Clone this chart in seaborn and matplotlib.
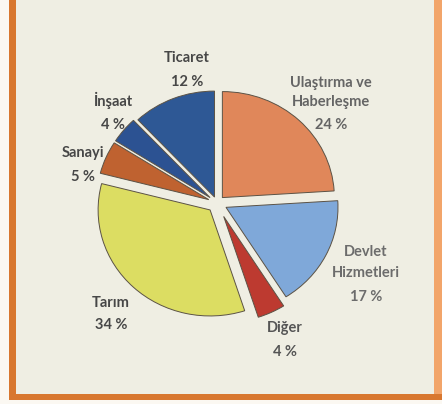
import matplotlib
matplotlib.use("Agg")
import matplotlib.pyplot as plt
from matplotlib.patches import Rectangle
import seaborn as sns

# ---- data ----
categories = ["Ticaret", "İnşaat", "Sanayi", "Tarım", "Diğer", "Devlet Hizmetleri", "Ulaştırma ve Haberleşme"]
values = [12, 4, 5, 34, 4, 17, 24]
label_lines = [["Ticaret"], ["İnşaat"], ["Sanayi"], ["Tarım"], ["Diğer"],
               ["Devlet", "Hizmetleri"], ["Ulaştırma ve", "Haberleşme"]]

# ---- style ----
sns.set_style("white")
plt.rcParams['font.family'] = ['Lato', 'DejaVu Sans']

colors = ["#2e5895", "#2c5292", "#bf6230", "#dcdd62", "#bd3a30", "#7fa8d9", "#e0875a"]
explode = [0.06, 0.08, 0.08, 0.09, 0.14, 0.09, 0.07]

W, H = 442, 404
fig = plt.figure(figsize=(W / 100, H / 100), dpi=100)
fig.patch.set_facecolor("#efeee3")

ax = fig.add_axes([0, 0, 1, 1])
ax.set_facecolor("none")
wedges, _ = ax.pie(values, colors=colors, explode=explode, startangle=90,
                   counterclock=True, radius=1.0,
                   wedgeprops=dict(edgecolor="#5b5245", linewidth=0.7))
# pie centre at image (217, 203); px per radius horizontally / vertically
cx, cy, rx, ry = 217, 203, 112, 106
ax.set_aspect("auto")
ax.set_xlim(-cx / rx, (W - cx) / rx)
ax.set_ylim(-(H - cy) / ry, cy / ry)
ax.axis("off")

# ---- labels (image pixel positions) ----
label_x = [187, 113, 83, 111, 285, 366, 331]
label_y = [[58, 82], [100, 125], [153, 177], [303, 325], [328, 352],
           [252, 273, 297], [83, 102, 125]]
text_colors = ["#474747", "#474747", "#474747", "#474747", "#555555", "#6c6c6c", "#656565"]

for lines, val, x, ys, tc in zip(label_lines, values, label_x, label_y, text_colors):
    all_lines = lines + [f"{val} %"]
    for line, y in zip(all_lines, ys):
        fig.text(x / W, 1 - y / H, line, ha="center", va="center",
                 fontsize=10.5, fontweight="bold", color=tc)

# ---- frame ----
def rect(x0, y0, x1, y1, color):
    fig.patches.append(Rectangle((x0 / W, 1 - y1 / H), (x1 - x0) / W, (y1 - y0) / H,
                                 transform=fig.transFigure, facecolor=color,
                                 edgecolor="none", zorder=0))

rect(0, 0, 9, H, "#fbf8f2")
rect(9, 0, 16, 400, "#d8772f")
rect(9, 394, W, 400, "#d8772f")
rect(0, 400, W, H, "#fbf8f2")
rect(434, 0, W, 394, "#f2a56a")

fig.savefig("out.png", dpi=100, facecolor=fig.get_facecolor())
